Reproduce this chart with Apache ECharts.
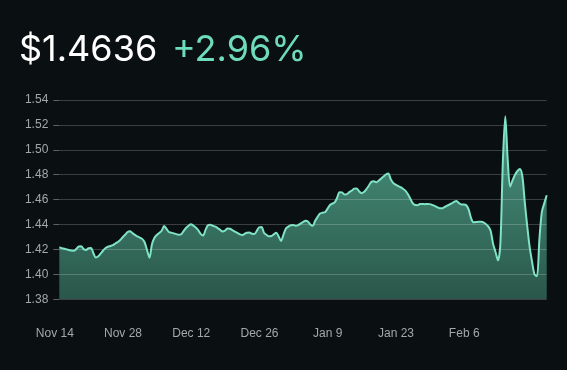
<!DOCTYPE html>
<html>
<head>
<meta charset="utf-8">
<script src="https://cdn.jsdelivr.net/npm/echarts@6/dist/echarts.min.js"></script>
<style>
html,body{margin:0;padding:0;background:#0a0f12;}
#chart{width:567px;height:370px;}
</style>
</head>
<body>
<div id="chart"></div>
<script>
// Headline texts
const priceText = '$1.4636';
const changeText = '+2.96%';

// Tick labels shown on the x axis (every 14 days)
const tickLabels = ['Nov 14', 'Nov 28', 'Dec 12', 'Dec 26', 'Jan 9', 'Jan 23', 'Feb 6'];

// Price values, one every 12 hours, starting Nov 14
const prices = [
  1.4215, 1.4211, 1.4206, 1.4201, 1.4196, 1.4191, 1.4190, 1.4205, 1.4224, 1.4226,
  1.4203, 1.4196, 1.4210, 1.4212, 1.4170, 1.4135, 1.4145, 1.4168, 1.4192, 1.4212,
  1.4222, 1.4228, 1.4235, 1.4248, 1.4260, 1.4276, 1.4298, 1.4318, 1.4340, 1.4347,
  1.4332, 1.4317, 1.4306, 1.4296, 1.4285, 1.4258, 1.4195, 1.4134, 1.4240, 1.4292,
  1.4316, 1.4332, 1.4350, 1.4388, 1.4365, 1.4340, 1.4335, 1.4329, 1.4323, 1.4318,
  1.4322, 1.4348, 1.4372, 1.4390, 1.4402, 1.4392, 1.4376, 1.4355, 1.4325, 1.4312,
  1.4357, 1.4395, 1.4398, 1.4390, 1.4383, 1.4372, 1.4358, 1.4345, 1.4352, 1.4368,
  1.4366, 1.4355, 1.4344, 1.4334, 1.4323, 1.4316, 1.4325, 1.4335, 1.4336, 1.4326,
  1.4325, 1.4348, 1.4378, 1.4380, 1.4335, 1.4318, 1.4306, 1.4308, 1.4322, 1.4335,
  1.4305, 1.4268, 1.4320, 1.4368, 1.4384, 1.4395, 1.4396, 1.4390, 1.4395, 1.4408,
  1.4420, 1.4430, 1.4425, 1.4400, 1.4390, 1.4430, 1.4462, 1.4488, 1.4495, 1.4499,
  1.4525, 1.4555, 1.4568, 1.4578, 1.4615, 1.4660, 1.4658, 1.4642, 1.4645, 1.4660,
  1.4672, 1.4688, 1.4690, 1.4668, 1.4652, 1.4662, 1.4684, 1.4712, 1.4742, 1.4748,
  1.4740, 1.4752, 1.4768, 1.4785, 1.4802, 1.4810, 1.4765, 1.4735, 1.4720, 1.4710,
  1.4700, 1.4688, 1.4672, 1.4645, 1.4610, 1.4572, 1.4557, 1.4556, 1.4565, 1.4566,
  1.4564, 1.4566, 1.4564, 1.4558, 1.4550, 1.4540, 1.4531, 1.4530, 1.4540, 1.4550,
  1.4560, 1.4570, 1.4582, 1.4590, 1.4572, 1.4562, 1.4562, 1.4555, 1.4520, 1.4450,
  1.4418, 1.4420, 1.4423, 1.4422, 1.4418, 1.4405, 1.4385, 1.4350, 1.4245, 1.4180,
  1.4112, 1.4250, 1.4900, 1.5270, 1.4920, 1.4704, 1.4755, 1.4800, 1.4830, 1.4847,
  1.4790, 1.4580, 1.4390, 1.4220, 1.4100, 1.4000, 1.3985, 1.4280, 1.4500, 1.4570,
  1.4636
];

// Category labels: one per 12-hour step from Nov 14
const monthNames = ['Jan','Feb','Mar','Apr','May','Jun','Jul','Aug','Sep','Oct','Nov','Dec'];
const startTime = Date.UTC(2023, 10, 14);
const categories = prices.map(function (_, i) {
  const d = new Date(startTime + i * 12 * 3600 * 1000);
  return monthNames[d.getUTCMonth()] + ' ' + d.getUTCDate() + (d.getUTCHours() ? ' 12:00' : '');
});

const chart = echarts.init(document.getElementById('chart'), null, {renderer: 'canvas'});
chart.setOption({
  backgroundColor: '#0a0f12',
  animation: false,
  title: [
    {
      text: priceText, left: 14, top: 27,
      textStyle: {color: '#ffffff', fontFamily: 'Inter', fontWeight: 400, fontSize: 36}
    },
    {
      text: changeText, left: 167, top: 27,
      textStyle: {color: '#6fdcb9', fontFamily: 'Inter', fontWeight: 400, fontSize: 36}
    }
  ],
  grid: {left: 59.3, right: 20.3, top: 100, bottom: 70.7, containLabel: false},
  xAxis: {
    type: 'category',
    data: categories,
    boundaryGap: false,
    axisLine: {show: false},
    axisTick: {show: false},
    splitLine: {show: false},
    axisLabel: {
      interval: function (index, value) { return tickLabels.indexOf(value) !== -1; },
      formatter: function (value) { return value; },
      color: '#a3a8ab',
      fontFamily: 'Liberation Sans',
      fontSize: 12,
      margin: 28,
      padding: [0, 9, 0, 0]
    }
  },
  yAxis: {
    type: 'value',
    min: 1.38,
    max: 1.54,
    interval: 0.02,
    z: 3,
    axisLine: {show: false},
    axisTick: {show: true, length: 6, lineStyle: {color: '#5b6164'}},
    splitLine: {show: true, lineStyle: {color: 'rgba(255,255,255,0.2)', width: 1}},
    axisLabel: {
      formatter: function (v) { return v.toFixed(2); },
      color: '#a3a8ab',
      fontFamily: 'Liberation Sans',
      fontSize: 12,
      margin: 11
    }
  },
  series: [
    {
      type: 'line',
      data: prices,
      z: 1,
      smooth: 0.3,
      showSymbol: false,
      lineStyle: {width: 0},
      areaStyle: {
        opacity: 1,
        color: new echarts.graphic.LinearGradient(0, 0, 0, 1, [
          {offset: 0, color: '#4a967f'},
          {offset: 1, color: '#2a574a'}
        ])
      }
    },
    {
      type: 'line',
      data: prices,
      z: 5,
      smooth: 0.3,
      showSymbol: false,
      lineStyle: {width: 2, color: '#7fe3c4'}
    }
  ]
});
</script>
</body>
</html>
